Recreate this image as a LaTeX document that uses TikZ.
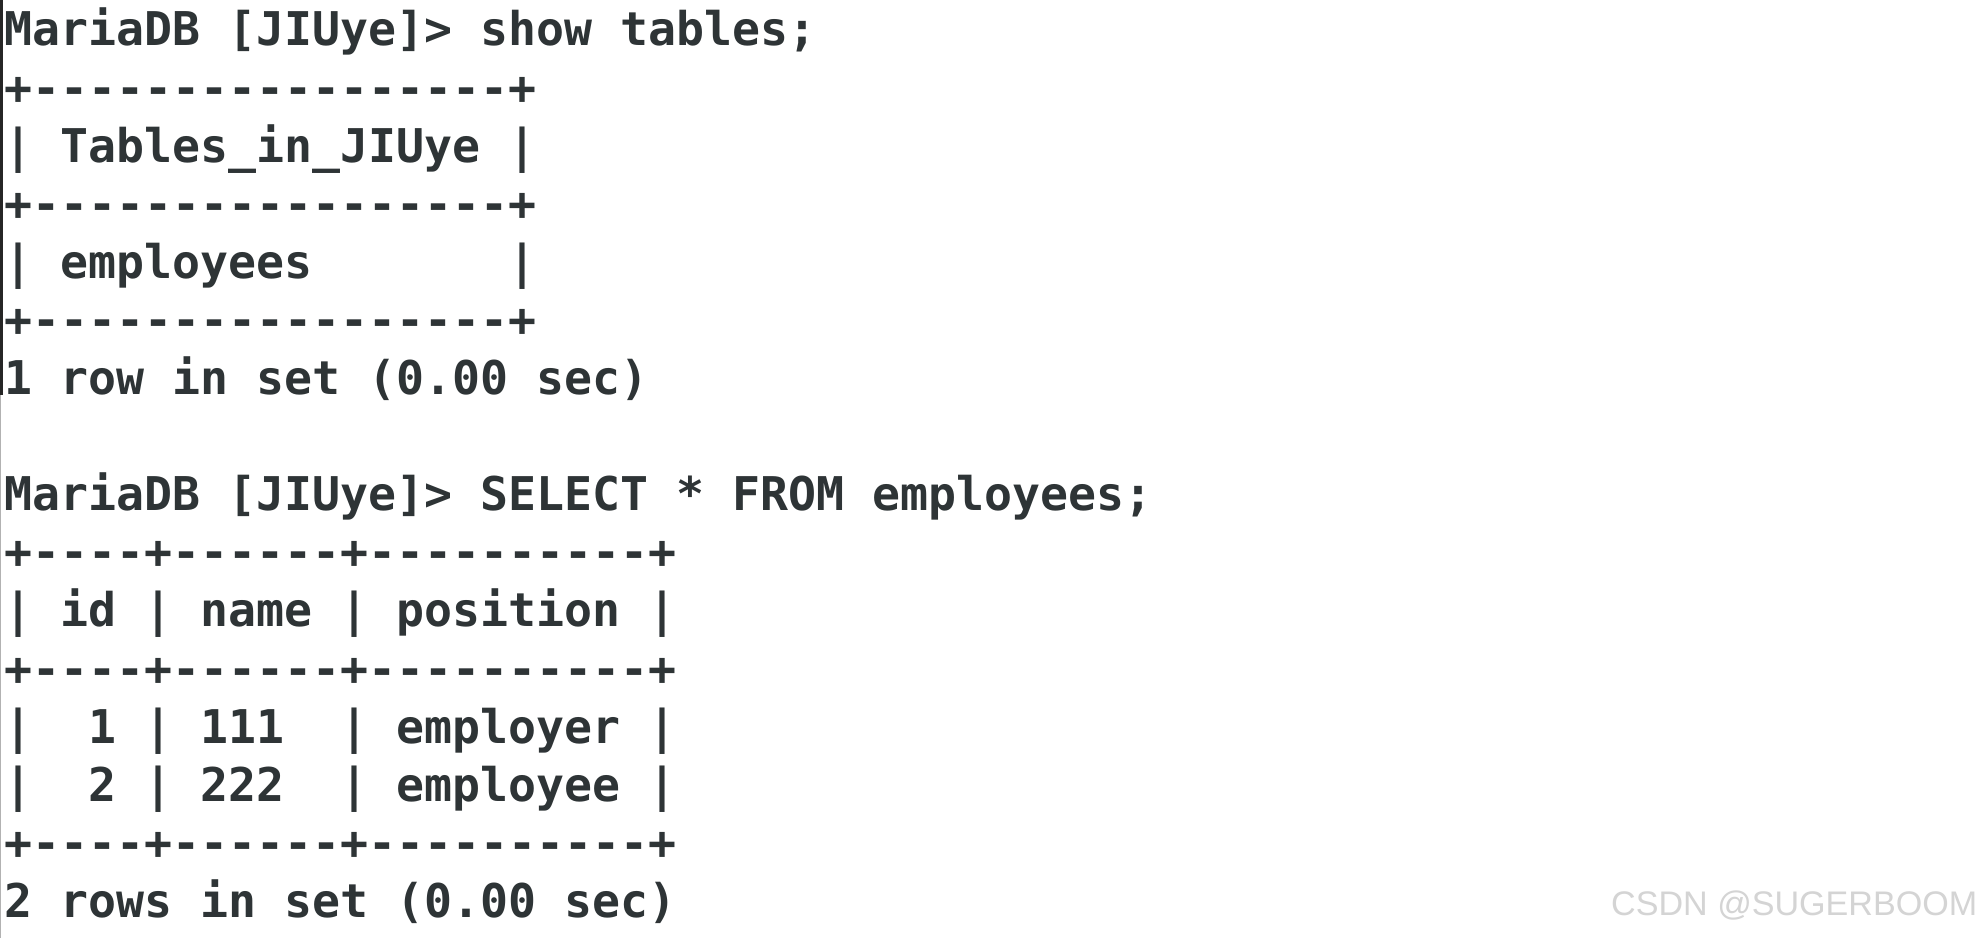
\documentclass[tikz,border=0pt]{standalone}
\usepackage{fontspec}
\setmonofont{DejaVu Sans Mono}
\newfontfamily\wmfont{Liberation Sans}
\usetikzlibrary{positioning}
\definecolor{termfg}{HTML}{2E3436}
\frenchspacing

\begin{document}
\begin{tikzpicture}[x=0.1mm,y=-0.1mm]

	\tikzset{line st/.style={anchor=base west, inner sep=0pt, text=termfg,
			font=\ttfamily\bfseries\fontsize{13.23pt}{15pt}\selectfont},
		wm st/.style={anchor=base east, inner sep=0pt, text=black!17,
			font=\wmfont\fontsize{9.7pt}{11pt}\selectfont}}

	\useasboundingbox[fill=white] (0,0) rectangle (1984,938);

	% window edge
	\fill[black!85] (0,0) rectangle (2.6,395);
	\fill[black!30] (0,395) rectangle (1.2,938);

	% show tables
	\node[line st] (P1) at (4,46) {MariaDB [JIUye]> show tables;};
	\node[line st] (A1) at (4,104.1) {+-----------------+};
	\node[line st] (A2) at (4,162.2) {| Tables\_in\_JIUye |};
	\node[line st] (A3) at (4,220.3) {+-----------------+};
	\node[line st] (A4) at (4,278.4) {| employees~~~~~~~|};
	\node[line st] (A5) at (4,336.5) {+-----------------+};
	\node[line st] (R1) at (4,394.6) {1 row in set (0.00 sec)};

	% select
	\node[line st] (P2) at (4,510.8) {MariaDB [JIUye]> SELECT * FROM employees;};
	\node[line st] (B1) at (4,568.9) {+----+------+----------+};
	\node[line st] (B2) at (4,627) {| id | name | position |};
	\node[line st] (B3) at (4,685.1) {+----+------+----------+};
	\node[line st] (B4) at (4,743.2) {|~~1 | 111~~| employer |};
	\node[line st] (B5) at (4,801.3) {|~~2 | 222~~| employee |};
	\node[line st] (B6) at (4,859.4) {+----+------+----------+};
	\node[line st] (R2) at (4,917.5) {2 rows in set (0.00 sec)};

	\node[wm st] (W) at (1978,915) {CSDN @SUGERBOOM};

\end{tikzpicture}
\end{document}
